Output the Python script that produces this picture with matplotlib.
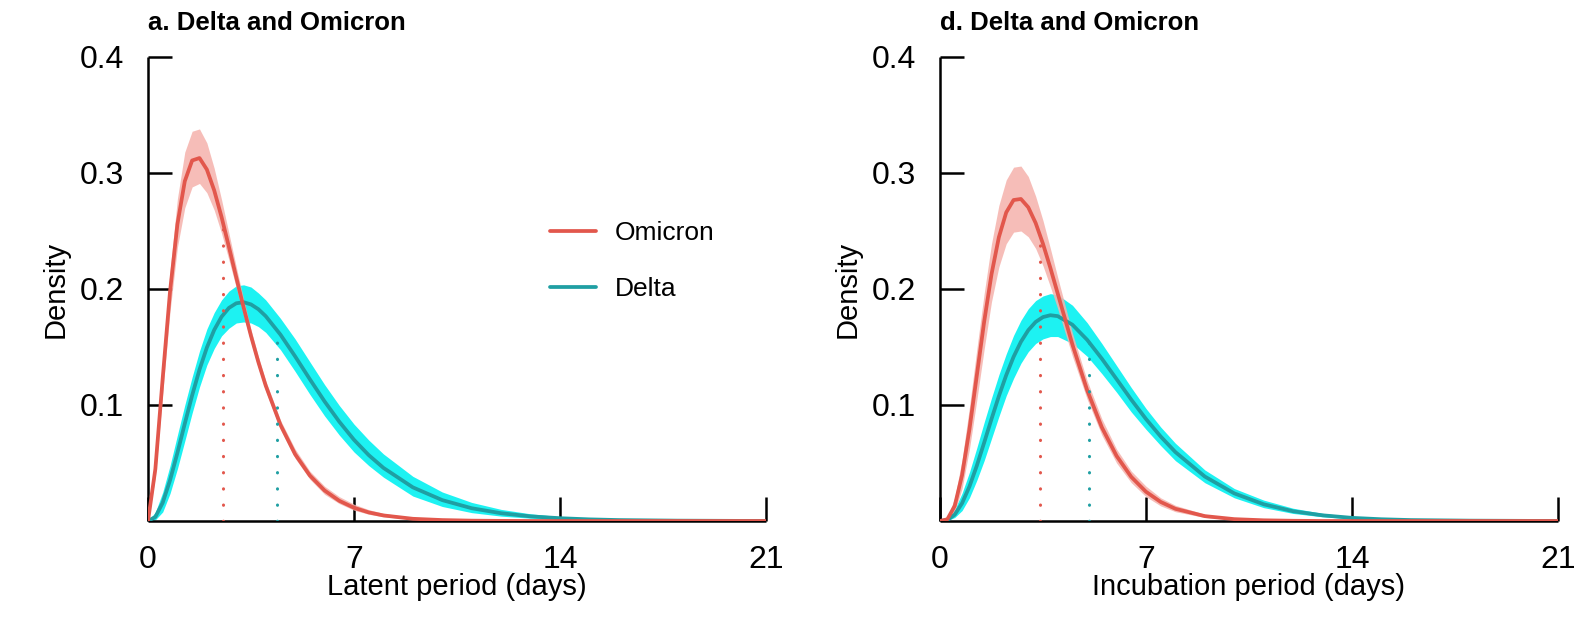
import matplotlib
matplotlib.use("Agg")
import matplotlib.pyplot as plt
import numpy as np

plt.rcParams['font.family'] = ['Liberation Sans', 'DejaVu Sans']

# Day grid shared by every curve
days = [0, 0.25, 0.5, 0.75, 1, 1.25, 1.5, 1.75, 2, 2.25, 2.5, 2.75, 3, 3.25, 3.5,
        3.75, 4, 4.5, 5, 5.5, 6, 6.5, 7, 7.5, 8, 9, 10, 11, 12, 13, 14, 15, 16, 18, 21]

# Latent period densities (central estimate and credible band)
lat_omicron = [0, 0.0448, 0.1232, 0.1982, 0.2559, 0.2929, 0.3108, 0.3129, 0.3030, 0.2850,
               0.2620, 0.2363, 0.2099, 0.1840, 0.1595, 0.1370, 0.1167, 0.0829, 0.0575, 0.0392,
               0.0263, 0.0174, 0.0114, 0.0074, 0.0048, 0.0019, 0.0008, 0.0003, 0.0001,
               0, 0, 0, 0, 0, 0]
lat_omicron_hi = [0, 0.052, 0.137, 0.216, 0.278, 0.318, 0.336, 0.338, 0.326, 0.304,
                  0.277, 0.248, 0.219, 0.191, 0.165, 0.142, 0.121, 0.087, 0.062, 0.043,
                  0.030, 0.021, 0.0145, 0.0098, 0.0066, 0.0029, 0.0013, 0.0005, 0.0002,
                  0, 0, 0, 0, 0, 0]
lat_omicron_lo = [0, 0.038, 0.110, 0.181, 0.236, 0.270, 0.288, 0.291, 0.283, 0.268,
                  0.248, 0.225, 0.201, 0.177, 0.154, 0.132, 0.112, 0.079, 0.054, 0.036,
                  0.023, 0.015, 0.0093, 0.0058, 0.0036, 0.0013, 0.0005, 0.0002, 0.0001,
                  0, 0, 0, 0, 0, 0]
lat_delta = [0, 0.0035, 0.0158, 0.0352, 0.0588, 0.0839, 0.1083, 0.1305, 0.1495, 0.1647,
             0.1761, 0.1837, 0.1877, 0.1886, 0.1867, 0.1826, 0.1766, 0.1607, 0.1419, 0.1222,
             0.1031, 0.0856, 0.0700, 0.0568, 0.0458, 0.0290, 0.0180, 0.0110, 0.0067, 0.0040,
             0.0024, 0.0014, 0.0008, 0.0003, 0.0]
lat_delta_hi = [0, 0.0075, 0.0248, 0.0478, 0.0741, 0.0999, 0.1241, 0.1465, 0.1655, 0.1797,
                0.1906, 0.1982, 0.2027, 0.2036, 0.2017, 0.1966, 0.1906, 0.1747, 0.1569, 0.1372,
                0.1176, 0.0996, 0.0835, 0.0698, 0.0578, 0.0385, 0.0250, 0.0160, 0.0100, 0.0062,
                0.0038, 0.0023, 0.0013, 0.0005, 0.0]
lat_delta_lo = [0, 0.0010, 0.0078, 0.0238, 0.0451, 0.0689, 0.0931, 0.1155, 0.1345, 0.1487,
                0.1596, 0.1662, 0.1707, 0.1716, 0.1707, 0.1676, 0.1626, 0.1477, 0.1289, 0.1092,
                0.0906, 0.0741, 0.0595, 0.0478, 0.0378, 0.0215, 0.0125, 0.0072, 0.0042, 0.0024,
                0.0014, 0.0008, 0.0004, 0.0001, 0.0]

# Incubation period densities
inc_omicron = [0, 0.0015, 0.0130, 0.0396, 0.0790, 0.1253, 0.1717, 0.2127, 0.2446, 0.2660,
               0.2767, 0.2776, 0.2704, 0.2569, 0.2389, 0.2182, 0.1961, 0.1521, 0.1128, 0.0807,
               0.0561, 0.0380, 0.0252, 0.0164, 0.0105, 0.0042, 0.0016, 0.0006, 0.0002,
               0, 0, 0, 0, 0, 0]
inc_omicron_hi = [0, 0.003, 0.020, 0.053, 0.098, 0.148, 0.196, 0.239, 0.272, 0.294,
                  0.305, 0.306, 0.297, 0.280, 0.259, 0.235, 0.210, 0.162, 0.121, 0.088,
                  0.062, 0.043, 0.030, 0.020, 0.0135, 0.0058, 0.0024, 0.0010, 0.0004,
                  0, 0, 0, 0, 0, 0]
inc_omicron_lo = [0, 0.0005, 0.008, 0.028, 0.062, 0.104, 0.148, 0.189, 0.219, 0.239,
                  0.249, 0.250, 0.245, 0.235, 0.220, 0.202, 0.183, 0.142, 0.105, 0.074,
                  0.050, 0.033, 0.021, 0.013, 0.0080, 0.0030, 0.0010, 0.0003, 0.0001,
                  0, 0, 0, 0, 0, 0]
inc_delta = [0, 0.0008, 0.0055, 0.0153, 0.0297, 0.0476, 0.0675, 0.0879, 0.1076, 0.1257,
             0.1415, 0.1545, 0.1645, 0.1716, 0.1758, 0.1774, 0.1766, 0.1692, 0.1562, 0.1399,
             0.1223, 0.1046, 0.0879, 0.0728, 0.0594, 0.0383, 0.0238, 0.0144, 0.0084, 0.0049,
             0.0027, 0.0015, 0.0008, 0.0003, 0.0]
inc_delta_hi = [0, 0.002, 0.010, 0.024, 0.042, 0.063, 0.085, 0.106, 0.126, 0.144,
                0.160, 0.173, 0.183, 0.190, 0.194, 0.196, 0.195, 0.186, 0.171, 0.153,
                0.134, 0.115, 0.097, 0.081, 0.067, 0.044, 0.028, 0.018, 0.011, 0.0066,
                0.0038, 0.0022, 0.0013, 0.0004, 0.0]
inc_delta_lo = [0, 0.0003, 0.003, 0.009, 0.020, 0.035, 0.052, 0.071, 0.090, 0.108,
                0.123, 0.136, 0.146, 0.153, 0.157, 0.159, 0.159, 0.153, 0.142, 0.127,
                0.111, 0.094, 0.079, 0.065, 0.052, 0.033, 0.020, 0.0115, 0.0065, 0.0036,
                0.0019, 0.0010, 0.0005, 0.0001, 0.0]

# Mean durations (days)
lat_means = {"Omicron": 2.55, "Delta": 4.38}
inc_means = {"Omicron": 3.39, "Delta": 5.05}

titles = ["a. Delta and Omicron", "d. Delta and Omicron"]
xlabels = ["Latent period (days)", "Incubation period (days)"]
xticks = [0, 7, 14, 21]
yticks = [0.1, 0.2, 0.3, 0.4]

omi_line = "#E2574C"
omi_band = "#F5B2AC"
del_line = "#1F9FA3"
del_band = "#10F2F2"

W, H = 1595, 626
fig = plt.figure(figsize=(W / 100, H / 100), dpi=100)
ax_left = [148 / W, 940 / W]
axes = [fig.add_axes([l, 105 / H, 618 / W, 464 / H]) for l in ax_left]

panels = [
    (lat_omicron, lat_omicron_lo, lat_omicron_hi, lat_delta, lat_delta_lo, lat_delta_hi, lat_means),
    (inc_omicron, inc_omicron_lo, inc_omicron_hi, inc_delta, inc_delta_lo, inc_delta_hi, inc_means),
]

x = np.array(days)
for i, (ax, (om, om_lo, om_hi, de, de_lo, de_hi, means)) in enumerate(zip(axes, panels)):
    ax.fill_between(x, de_lo, de_hi, color=del_band, alpha=0.95, lw=0, zorder=1)
    ax.fill_between(x, om_lo, om_hi, color=omi_band, alpha=0.85, lw=0, zorder=2)
    l_de, = ax.plot(x, de, color=del_line, lw=2.7, zorder=3, label="Delta",
                    solid_capstyle="round")
    l_om, = ax.plot(x, om, color=omi_line, lw=2.7, zorder=4, label="Omicron",
                    solid_capstyle="round")

    # dotted drop lines at the mean durations
    for name, col, curve in (("Omicron", omi_line, om), ("Delta", del_line, de)):
        m = means[name]
        h = np.interp(m, x, curve)
        ax.plot([m, m], [0, h], color=col, lw=2.2, linestyle=(0, (0.1, 5.2)),
                dash_capstyle="round", zorder=5)

    ax.set_xlim(0, 21)
    ax.set_ylim(0, 0.4)
    ax.set_xticks(xticks)
    ax.set_xticklabels([str(t) for t in xticks])
    ax.set_yticks(yticks)
    ax.set_yticklabels([f"{t:.1f}" for t in yticks])
    ax.tick_params(direction="in", length=17, width=1.8, labelsize=23, pad=17,
                   color="black")
    for s in ("top", "right"):
        ax.spines[s].set_visible(False)
    for s in ("left", "bottom"):
        ax.spines[s].set_linewidth(1.8)
        ax.spines[s].set_capstyle("butt")

    ax.set_ylabel("Density", fontsize=21, va="center")
    ax.yaxis.set_label_coords(-92 / 618, 0.5)
    ax.set_xlabel(xlabels[i], fontsize=21, va="center")
    ax.xaxis.set_label_coords(0.5, -66 / 464)

    fig.text(ax_left[i], 1 - 23 / H, titles[i], fontsize=18.5, fontweight="bold",
             ha="left", va="center")

    if i == 0:
        ax.legend(handles=[l_om, l_de], loc="center left",
                  bbox_to_anchor=((550 - 148) / 618, (521 - 261) / 464),
                  frameon=False, fontsize=19, handlelength=1.74, handletextpad=0.72,
                  labelspacing=1.2, borderpad=0, borderaxespad=0)

fig.savefig("out.png", dpi=100, facecolor="white")
